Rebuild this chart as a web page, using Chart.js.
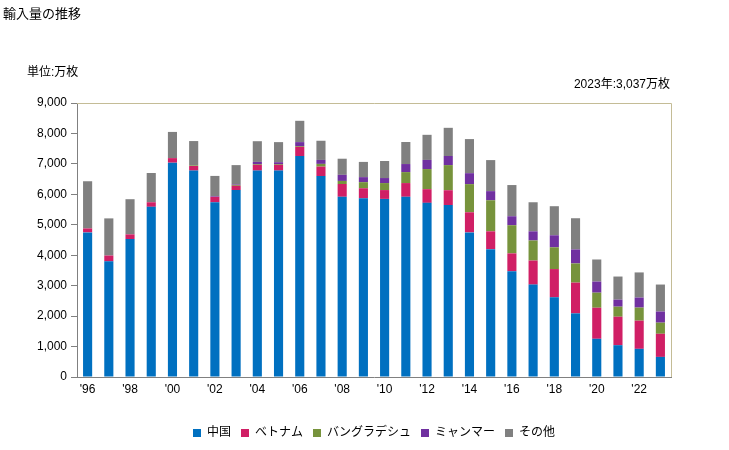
<!DOCTYPE html>
<html>
<head>
<meta charset="utf-8">
<script src="https://cdn.jsdelivr.net/npm/chart.js@4/dist/chart.umd.min.js"></script>
<style>
    html, body { margin: 0; padding: 0; background: #fff; }
    #wrap { width: 729px; height: 450px; position: relative; }
</style>
</head>
<body>
<div id="wrap"><canvas id="importChart" width="729" height="450"></canvas></div>
<script>
const years = ['1996', '1997', '1998', '1999', '2000', '2001', '2002', '2003', '2004', '2005',
    '2006', '2007', '2008', '2009', '2010', '2011', '2012', '2013', '2014', '2015',
    '2016', '2017', '2018', '2019', '2020', '2021', '2022', '2023'];

const china =      [4750, 3800, 4530, 5590, 7040, 6780, 5740, 6140, 6780, 6780, 7260, 6600, 5920, 5870, 5850, 5920, 5720, 5650, 4750, 4200, 3475, 3035, 2620, 2090, 1255, 1045, 925, 660];
const vietnam =    [130, 190, 155, 150, 150, 150, 175, 140, 190, 190, 300, 310, 420, 330, 290, 450, 450, 485, 660, 585, 585, 790, 925, 1010, 1020, 935, 925, 760];
const bangladesh = [0, 0, 0, 0, 0, 20, 0, 30, 25, 25, 25, 90, 100, 200, 230, 360, 660, 825, 925, 1020, 925, 660, 715, 630, 495, 330, 430, 365];
const myanmar =    [0, 0, 0, 0, 0, 0, 20, 20, 70, 60, 130, 130, 200, 165, 165, 265, 300, 300, 360, 300, 295, 300, 395, 460, 365, 230, 330, 365];
const others =     [1550, 1220, 1155, 960, 860, 800, 670, 630, 680, 660, 700, 630, 530, 500, 560, 725, 825, 925, 1120, 1020, 1025, 955, 955, 1025, 725, 760, 825, 887];

const yTicks = [0, 1000, 2000, 3000, 4000, 5000, 6000, 7000, 8000, 9000];

const FONT = '"Liberation Sans", "Noto Sans CJK JP", sans-serif';

// texts and the khaki frame on top/right
const decor = {
    id: 'decor',
    afterDraw(chart) {
        const ctx = chart.ctx;
        const a = chart.chartArea;
        ctx.save();
        ctx.strokeStyle = '#c4bc96';
        ctx.lineWidth = 1;
        ctx.beginPath();
        ctx.moveTo(a.left, a.top + 0.5);
        ctx.lineTo(a.right + 0.5, a.top + 0.5);
        ctx.lineTo(a.right + 0.5, a.bottom);
        ctx.stroke();

        ctx.fillStyle = '#000';
        ctx.textBaseline = 'middle';
        ctx.font = '13px ' + FONT;
        ctx.textAlign = 'left';
        ctx.fillText('輸入量の推移', 3, 14);
        ctx.font = '12px ' + FONT;
        ctx.fillText('単位:万枚', 27, 73);
        ctx.textAlign = 'right';
        ctx.fillText('2023年:3,037万枚', 670, 85);
        ctx.restore();
    }
};

// push the legend row so it starts where the reference one does
const legendShift = {
    id: 'legendShift',
    afterUpdate(chart) {
        const lg = chart.legend;
        const w = lg.right - lg.left;
        lg.left = 193 - lg.options.labels.padding;
        lg.right = lg.left + w;
    }
};

new Chart(document.getElementById('importChart'), {
    type: 'bar',
    data: {
        labels: years,
        datasets: [
            { label: '中国', data: china, backgroundColor: '#0070c0' },
            { label: 'ベトナム', data: vietnam, backgroundColor: '#d01f65' },
            { label: 'バングラデシュ', data: bangladesh, backgroundColor: '#77933c' },
            { label: 'ミャンマー', data: myanmar, backgroundColor: '#7030a0' },
            { label: 'その他', data: others, backgroundColor: '#808080' }
        ]
    },
    options: {
        responsive: false,
        animation: false,
        datasets: { bar: { barPercentage: 0.43, categoryPercentage: 1 } },
        layout: { padding: { top: 103, left: 0, right: 58, bottom: 1 } },
        plugins: {
            legend: {
                position: 'bottom',
                align: 'start',
                labels: {
                    boxWidth: 8,
                    boxHeight: 8,
                    padding: 10,
                    color: '#000',
                    font: { family: FONT, size: 12 }
                }
            },
            tooltip: { enabled: false }
        },
        scales: {
            x: {
                stacked: true,
                grid: { display: false, drawTicks: false },
                border: { color: '#808080' },
                ticks: {
                    autoSkip: false,
                    maxRotation: 0,
                    color: '#000',
                    padding: 5,
                    font: { family: FONT, size: 12 },
                    callback: function (v, i) {
                        return i % 2 === 0 ? "'" + years[i].slice(2) : '';
                    }
                },
                afterFit: function (s) { s.height = 40; }
            },
            y: {
                stacked: true,
                min: 0,
                max: 9000,
                afterBuildTicks: function (s) { s.ticks = yTicks.map(v => ({ value: v })); },
                grid: { drawOnChartArea: false, drawTicks: true, tickLength: 6, color: '#808080' },
                border: { color: '#808080' },
                ticks: {
                    color: '#000',
                    padding: 4,
                    font: { family: FONT, size: 12 },
                    callback: v => v.toLocaleString('en-US')
                },
                afterFit: function (s) { s.width = 77; }
            }
        }
    },
    plugins: [decor, legendShift]
});
</script>
</body>
</html>
